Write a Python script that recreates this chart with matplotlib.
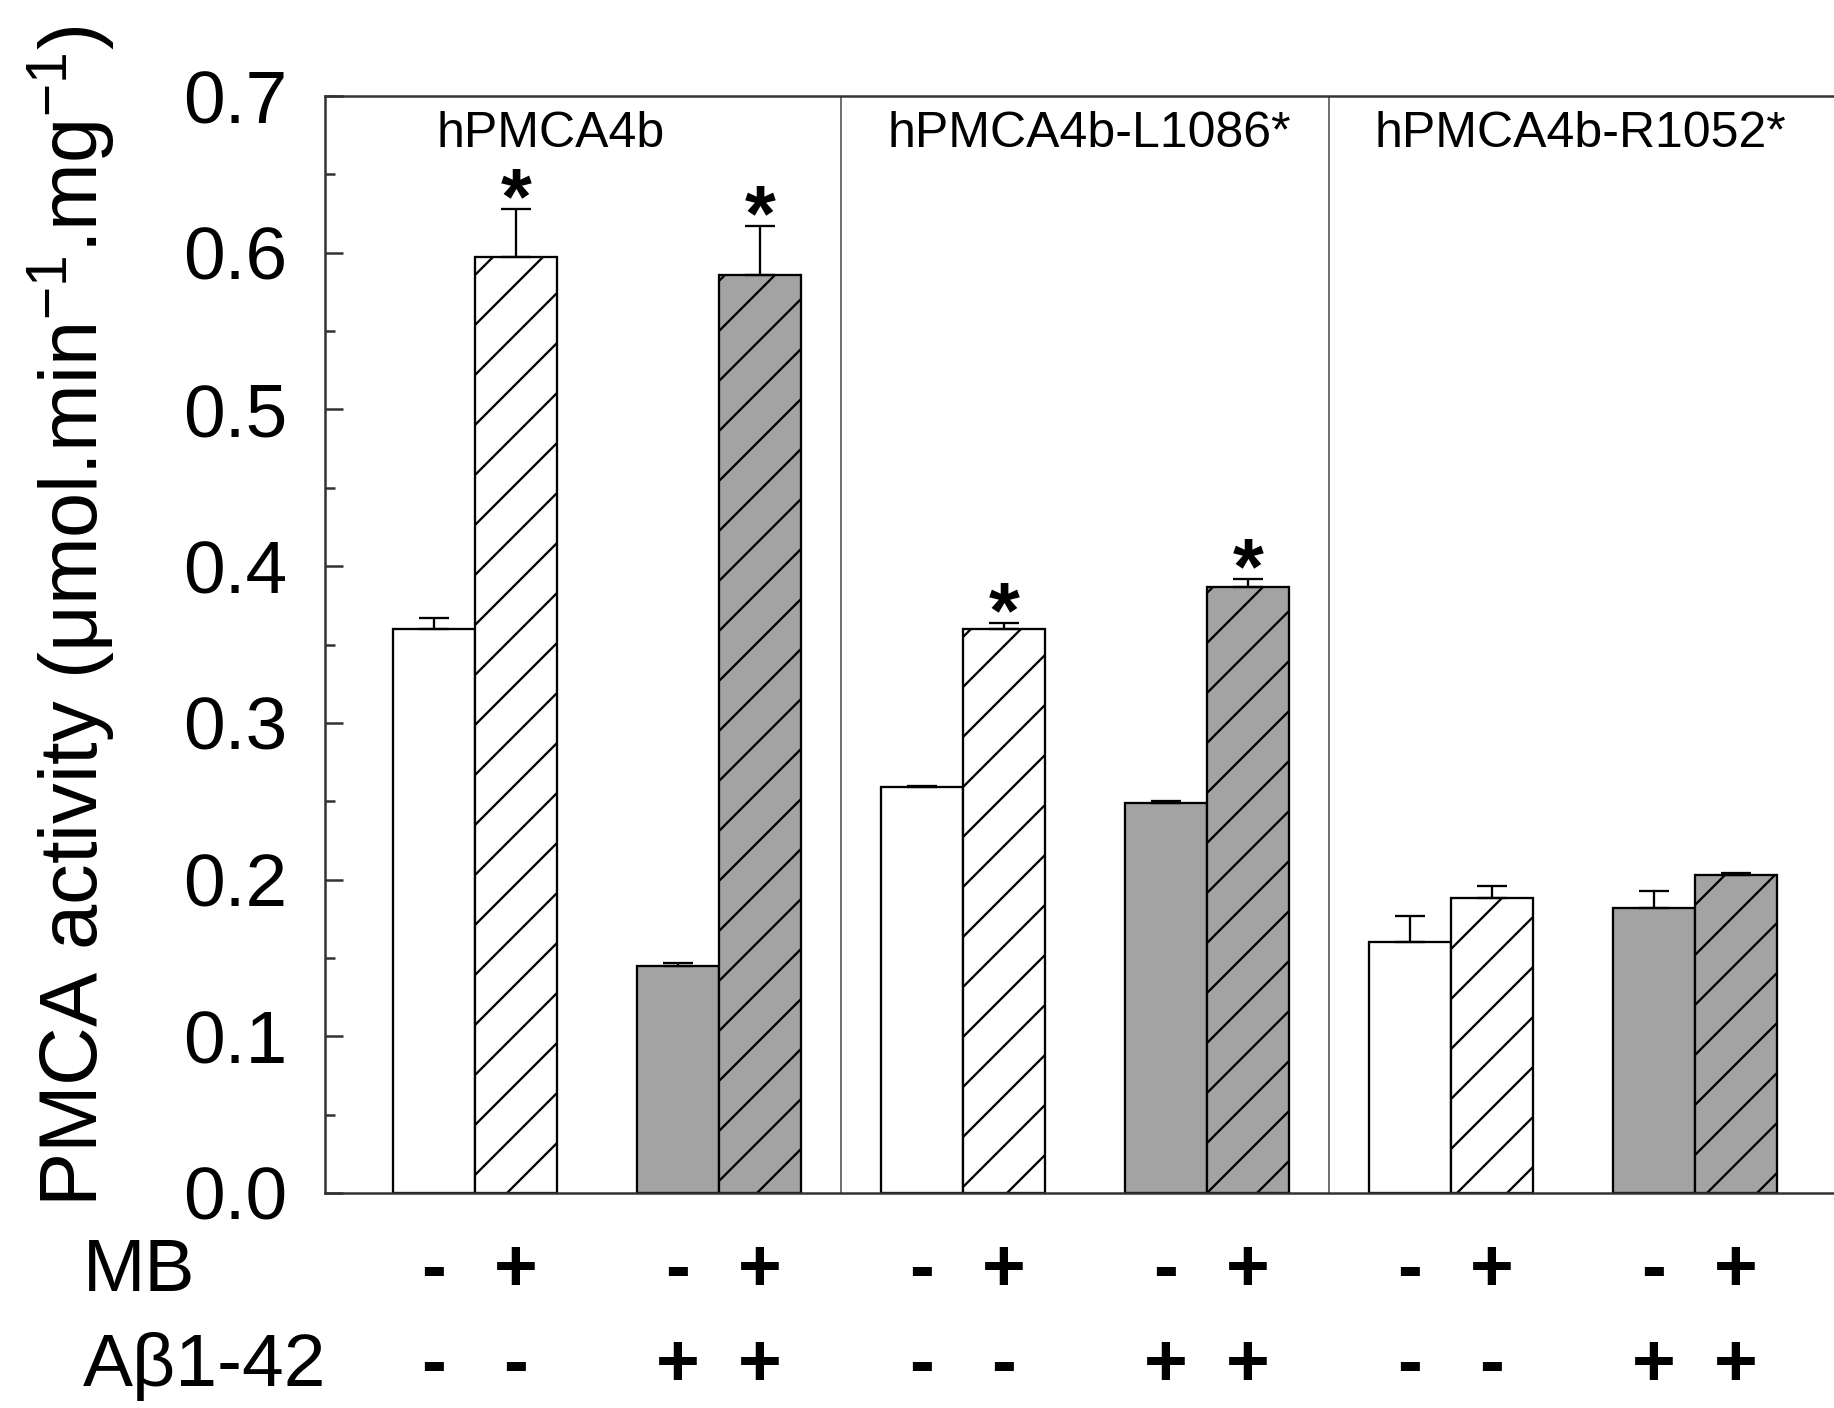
import numpy as np
import matplotlib
matplotlib.use('Agg')
import matplotlib.pyplot as plt
from matplotlib.transforms import blended_transform_factory
from matplotlib.ticker import MultipleLocator, FormatStrFormatter

plt.rcParams['font.family'] = ['Liberation Sans', 'DejaVu Sans']
plt.rcParams['mathtext.fontset'] = 'custom'
plt.rcParams['mathtext.rm'] = 'Liberation Sans'
plt.rcParams['mathtext.it'] = 'Liberation Sans'
plt.rcParams['hatch.linewidth'] = 0.55

groups = ['hPMCA4b', 'hPMCA4b-L1086*', 'hPMCA4b-R1052*']
# per group: (MB-, Ab-), (MB+, Ab-), (MB-, Ab+), (MB+, Ab+)
activity = [0.360, 0.597, 0.145, 0.586,
            0.259, 0.360, 0.249, 0.387,
            0.160, 0.188, 0.182, 0.203]
sem = [0.007, 0.031, 0.002, 0.031,
       0.001, 0.004, 0.001, 0.005,
       0.017, 0.008, 0.011, 0.001]
signif = [False, True, False, True,
          False, True, False, True,
          False, False, False, False]
mb = ['-', '+', '-', '+'] * 3
abeta = ['-', '-', '+', '+'] * 3

gray = '#a3a3a3'
w = 0.336
pairs = np.arange(1, 7)
x = np.repeat(pairs, 2) + np.tile([-w / 2, w / 2], 6)
fills = [('white' if a == '-' else gray) for a in abeta]
hatches = [('' if m == '-' else '//') for m in mb]

fig = plt.figure(figsize=(1834 / 300, 1408 / 300), dpi=300)
ax = fig.add_axes([0.1772, 0.1527, 1.0 - 0.1772, 0.9318 - 0.1527])

ax.bar(x, activity, width=w, color=fills, edgecolor='black',
       linewidth=0.55, hatch=hatches, zorder=2)
ax.errorbar(x, activity, yerr=[np.zeros(len(sem)), sem], fmt='none',
            ecolor='black', elinewidth=0.55, capsize=3.5, capthick=0.55, zorder=3)

for xi, v, e, s in zip(x, activity, sem, signif):
    if s:
        ax.annotate('*', (xi, v + e), xytext=(0, -3.5), textcoords='offset points',
                    ha='center', va='baseline', fontsize=19, fontweight='bold')

# group separators and names
for b in [2.5, 4.5]:
    ax.axvline(b, color='#555555', linewidth=0.4, zorder=1)
for gx, name in zip([1.31, 3.52, 5.53], groups):
    ax.text(gx, 0.676, name, ha='center', va='center', fontsize=12)

ax.set_xlim(0.386, 6.57)
ax.set_ylim(0, 0.7)
ax.yaxis.set_major_locator(MultipleLocator(0.1))
ax.yaxis.set_minor_locator(MultipleLocator(0.05))
ax.yaxis.set_major_formatter(FormatStrFormatter('%.1f'))
ax.tick_params(axis='y', which='major', direction='in', length=4.3, width=0.6,
               labelsize=18, pad=9, color='#333333')
ax.tick_params(axis='y', which='minor', direction='in', length=2.4, width=0.6,
               color='#333333')
ax.set_xticks([])
ax.spines['right'].set_visible(False)
for s in ['left', 'top', 'bottom']:
    ax.spines[s].set_linewidth(0.6)
    ax.spines[s].set_color('#333333')

fig.text(0.039, 0.562, r'PMCA activity ($\mu$mol.min$^{-1}$.mg$^{-1}$)',
         rotation=90, ha='center', va='center', fontsize=19.5)

# condition rows below the axis
tr = blended_transform_factory(fig.transFigure, ax.transAxes)
ax.text(0.0453, -0.072, 'MB', transform=tr, ha='left', va='center', fontsize=18)
ax.text(0.0453, -0.158, 'A\u03b21-42', transform=tr, ha='left', va='center', fontsize=18)
xt = ax.get_xaxis_transform()
for xi, m, a in zip(x, mb, abeta):
    ax.text(xi, -0.072, m, transform=xt, ha='center', va='center',
            fontsize=18, fontweight='bold')
    ax.text(xi, -0.158, a, transform=xt, ha='center', va='center',
            fontsize=18, fontweight='bold')

fig.savefig('out.png', dpi=300)
